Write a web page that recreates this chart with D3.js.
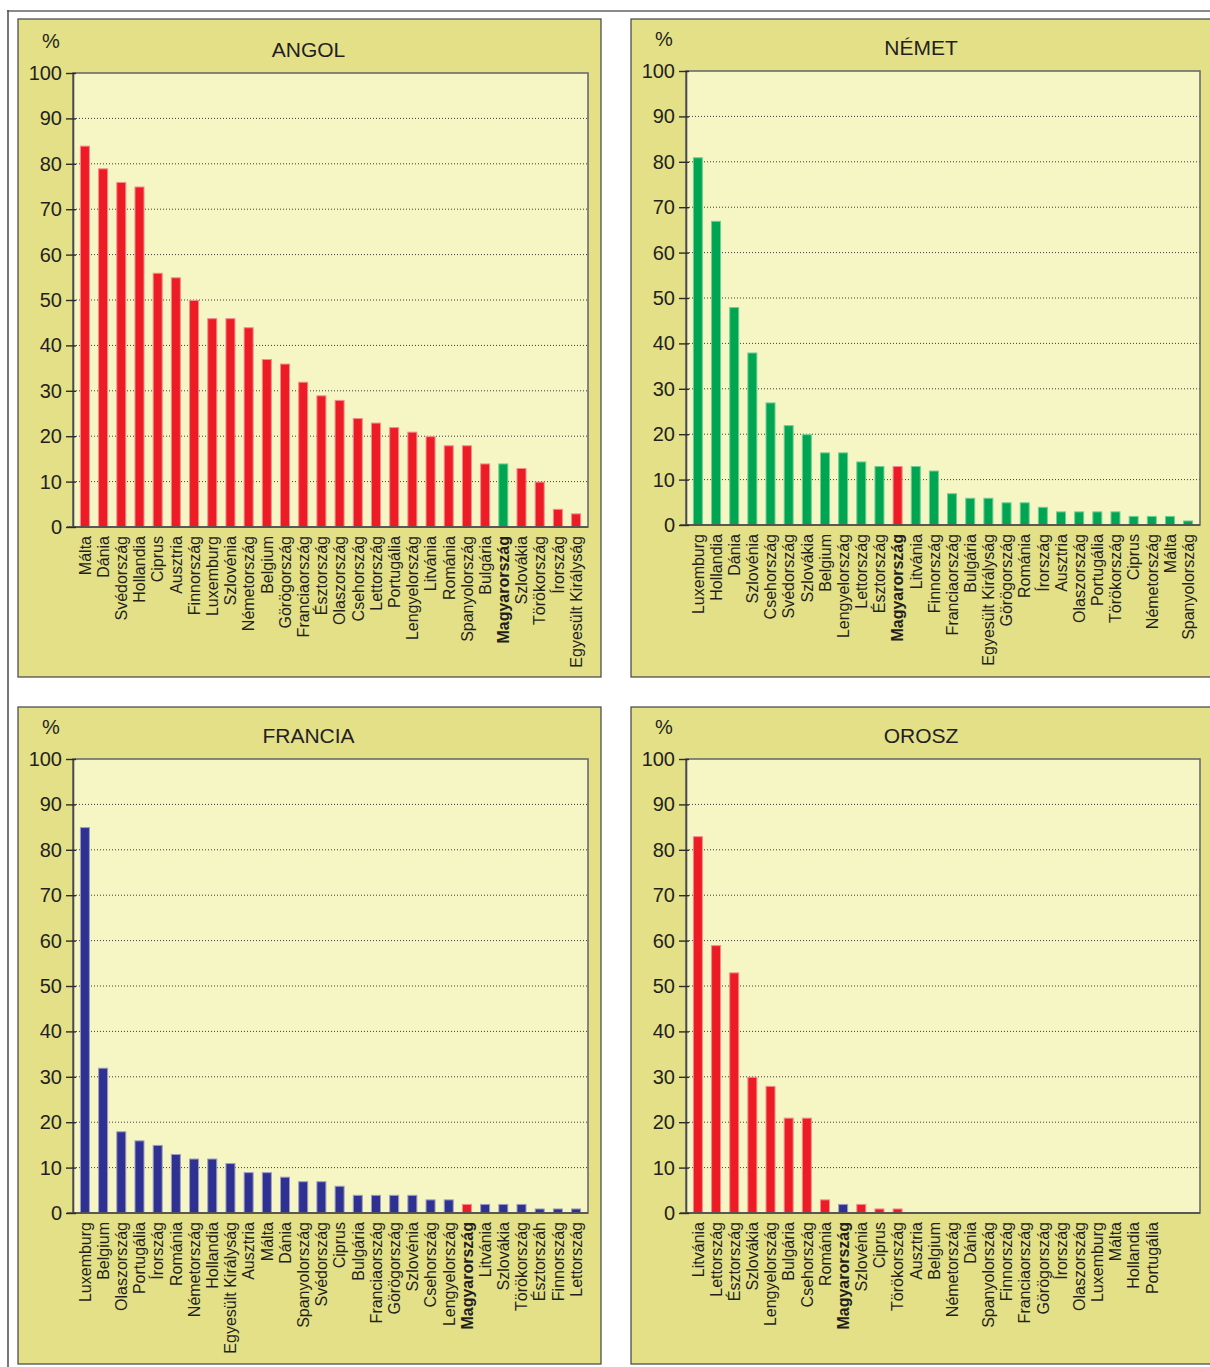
<!DOCTYPE html>
<html>
<head>
<meta charset="utf-8">
<script src="https://cdn.jsdelivr.net/npm/d3@7/dist/d3.min.js"></script>
<style>
  html, body { margin: 0; padding: 0; background: #ffffff; }
  svg { display: block; }
  text { font-family: "Liberation Sans", Arial, Helvetica, sans-serif; fill: #231f20; }
</style>
</head>
<body>
<svg id="chart" width="1210" height="1367"></svg>
<script>
// ---------- DATA ----------
const yTicks = [0, 10, 20, 30, 40, 50, 60, 70, 80, 90, 100];
const highlightCountry = "Magyarország";

const angolTitle = "ANGOL";
const angolCategories = ["Málta","Dánia","Svédország","Hollandia","Ciprus","Ausztria","Finnország","Luxemburg","Szlovénia","Németország","Belgium","Görögország","Franciaország","Észtország","Olaszország","Csehország","Lettország","Portugália","Lengyelország","Litvánia","Románia","Spanyolország","Bulgária","Magyarország","Szlovákia","Törökország","Írország","Egyesült Királyság"];
const angolValues = [84,79,76,75,56,55,50,46,46,44,37,36,32,29,28,24,23,22,21,20,18,18,14,14,13,10,4,3];

const nemetTitle = "NÉMET";
const nemetCategories = ["Luxemburg","Hollandia","Dánia","Szlovénia","Csehország","Svédország","Szlovákia","Belgium","Lengyelország","Lettország","Észtország","Magyarország","Litvánia","Finnország","Franciaország","Bulgária","Egyesült Királyság","Görögország","Románia","Írország","Ausztria","Olaszország","Portugália","Törökország","Ciprus","Németország","Málta","Spanyolország"];
const nemetValues = [81,67,48,38,27,22,20,16,16,14,13,13,13,12,7,6,6,5,5,4,3,3,3,3,2,2,2,1];

const franciaTitle = "FRANCIA";
const franciaCategories = ["Luxemburg","Belgium","Olaszország","Portugália","Írország","Románia","Németország","Hollandia","Egyesült Királyság","Ausztria","Málta","Dánia","Spanyolország","Svédország","Ciprus","Bulgária","Franciaország","Görögország","Szlovénia","Csehország","Lengyelország","Magyarország","Litvánia","Szlovákia","Törökország","Észtorszáh","Finnország","Lettország"];
const franciaValues = [85,32,18,16,15,13,12,12,11,9,9,8,7,7,6,4,4,4,4,3,3,2,2,2,2,1,1,1];

const oroszTitle = "OROSZ";
const oroszCategories = ["Litvánia","Lettország","Észtország","Szlovákia","Lengyelország","Bulgária","Csehország","Románia","Magyarország","Szlovénia","Ciprus","Törökország","Ausztria","Belgium","Németország","Dánia","Spanyolország","Finnország","Franciaország","Görögország","Írország","Olaszország","Luxemburg","Málta","Hollandia","Portugália"];
const oroszValues = [83,59,53,30,28,21,21,3,2,2,1,1,0,0,0,0,0,0,0,0,0,0,0,0,0,0];

// ---------- STYLE ----------
const RED = "#ed1c24", GREEN = "#00a551", BLUE = "#2e3192";
const EDGE = { [RED]: "#f58a8e", [GREEN]: "#6fcf96", [BLUE]: "#9c9dc4" };
const PANEL_FILL = "#e4e088";
const PLOT_FILL = "#f6f5c4";
const SLOTS = 28;

const svg = d3.select("#chart");

// outer frame
svg.append("line").attr("x1", 7).attr("x2", 1212).attr("y1", 11).attr("y2", 11)
  .attr("stroke", "#8a8a8a").attr("stroke-width", 2);
svg.append("line").attr("x1", 8).attr("x2", 8).attr("y1", 10).attr("y2", 1367)
  .attr("stroke", "#555").attr("stroke-width", 1.6);

const panels = [
  { title: angolTitle, cats: angolCategories, vals: angolValues, base: RED, hi: GREEN,
    px: 18, py: 19, pw: 583, ph: 658, left: 73, right: 588, top: 73, bottom: 527 },
  { title: nemetTitle, cats: nemetCategories, vals: nemetValues, base: GREEN, hi: RED,
    px: 631, py: 19, pw: 590, ph: 658, left: 686, right: 1200, top: 71, bottom: 525 },
  { title: franciaTitle, cats: franciaCategories, vals: franciaValues, base: BLUE, hi: RED,
    px: 18, py: 707, pw: 583, ph: 657, left: 73, right: 588, top: 759, bottom: 1213 },
  { title: oroszTitle, cats: oroszCategories, vals: oroszValues, base: RED, hi: BLUE,
    px: 631, py: 707, pw: 590, ph: 657, left: 686, right: 1200, top: 759, bottom: 1213 }
];

panels.forEach(drawPanel);

function drawPanel(p) {
  const g = svg.append("g");
  g.append("rect").attr("x", p.px).attr("y", p.py).attr("width", p.pw).attr("height", p.ph)
    .attr("fill", PANEL_FILL).attr("stroke", "#4f4f4f").attr("stroke-width", 1.3);

  g.append("rect").attr("x", p.left).attr("y", p.top)
    .attr("width", p.right - p.left).attr("height", p.bottom - p.top)
    .attr("fill", PLOT_FILL);

  const y = d3.scaleLinear().domain([0, 100]).range([p.bottom, p.top]);
  const x = d3.scaleBand().domain(d3.range(SLOTS)).range([p.left, p.right])
    .paddingInner(0.45).paddingOuter(0.38);

  // grid
  g.append("g").selectAll("line").data(yTicks.filter(t => t > 0 && t < 100)).join("line")
    .attr("x1", p.left + 3).attr("x2", p.right).attr("y1", d => y(d)).attr("y2", d => y(d))
    .attr("stroke", "#3d3d3d").attr("stroke-width", 1).attr("stroke-dasharray", "1,2");

  // bars
  const data = p.cats.map((c, i) => ({ c, v: p.vals[i], i }));
  g.append("g").selectAll("rect").data(data.filter(d => d.v > 0)).join("rect")
    .attr("x", d => x(d.i) + 0.5)
    .attr("width", x.bandwidth() - 1)
    .attr("y", d => y(d.v) + 0.5)
    .attr("height", d => y(0) - y(d.v) - 0.5)
    .attr("fill", d => d.c === highlightCountry ? p.hi : p.base)
    .attr("stroke", d => EDGE[d.c === highlightCountry ? p.hi : p.base])
    .attr("stroke-width", 1);

  // plot border
  g.append("rect").attr("x", p.left).attr("y", p.top)
    .attr("width", p.right - p.left).attr("height", p.bottom - p.top)
    .attr("fill", "none").attr("stroke", "#6b6b6b").attr("stroke-width", 1.6);
  g.append("line").attr("x1", p.left - 6).attr("x2", p.right).attr("y1", p.bottom).attr("y2", p.bottom)
    .attr("stroke", "#4a4a4a").attr("stroke-width", 1.6);

  // y axis
  const ya = g.append("g").attr("transform", `translate(${p.left},0)`)
    .call(d3.axisLeft(y).tickValues(yTicks).tickSize(7).tickSizeOuter(0).tickPadding(4));
  ya.select(".domain").attr("stroke", "#4a4a4a").attr("stroke-width", 1.6);
  ya.selectAll(".tick line").attr("x1", 3).attr("stroke", "#2b2b2b").attr("stroke-width", 1.4);
  ya.selectAll(".tick text").attr("font-size", 20).attr("font-family", null).attr("fill", "#231f20");

  // x labels
  const xa = g.append("g").attr("transform", `translate(0,${p.bottom})`)
    .call(d3.axisBottom(x).tickSize(0).tickFormat(i => p.cats[i] || ""));
  xa.select(".domain").remove();
  xa.selectAll(".tick text")
    .attr("font-size", 16).attr("font-family", null).attr("fill", "#231f20")
    .attr("transform", "rotate(-90)")
    .attr("text-anchor", "end")
    .attr("x", -9).attr("y", 0).attr("dy", "0.36em")
    .attr("font-weight", i => p.cats[i] === highlightCountry ? "bold" : "normal");

  // title and unit
  g.append("text").attr("x", (p.left + p.right) / 2 - 22).attr("y", p.top - 16.5)
    .attr("text-anchor", "middle").attr("font-size", 21).text(p.title);
  g.append("text").attr("x", p.px + 24).attr("y", p.top - 25)
    .attr("font-size", 20).text("%");
}
</script>
</body>
</html>
